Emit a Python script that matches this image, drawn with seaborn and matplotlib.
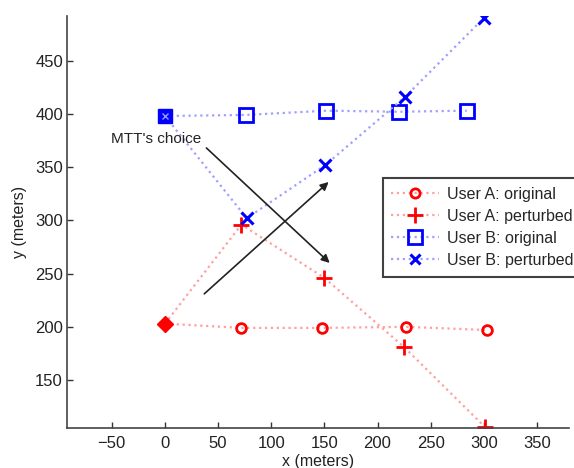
import matplotlib
matplotlib.use('Agg')
import matplotlib.pyplot as plt
import seaborn as sns
import numpy as np

# trajectories (x, y in meters); first point is the start
a_orig_x = [0, 72, 148, 227, 303]
a_orig_y = [203, 199, 199, 200, 197]
a_pert_x = [0, 72, 150, 225, 301]
a_pert_y = [203, 296, 246, 181, 106]
b_orig_x = [0, 76, 152, 220, 284]
b_orig_y = [398, 399, 403, 402, 403]
b_pert_x = [0, 77, 151, 226, 300]
b_pert_y = [398, 302, 352, 416, 490]

labels = ['User A: original', 'User A: perturbed',
          'User B: original', 'User B: perturbed']

sns.set_style('white')
plt.rcParams['font.family'] = ['Liberation Sans', 'DejaVu Sans']

fig = plt.figure(figsize=(5.74, 4.68), dpi=100)
ax = fig.add_axes([0.117, 0.0855, 0.874, 0.8805])

common = dict(linestyle=':', linewidth=1.6, sort=False, estimator=None, ax=ax)
sns.lineplot(x=a_orig_x, y=a_orig_y, color='#ffa0a0', marker='o', ms=7,
             mec='red', mfc='none', mew=2, markevery=[1, 2, 3, 4],
             label=labels[0], **common)
sns.lineplot(x=a_pert_x, y=a_pert_y, color='#ffa0a0', marker='+', ms=12,
             mec='red', mew=2, markevery=[1, 2, 3, 4],
             label=labels[1], **common)
sns.lineplot(x=b_orig_x, y=b_orig_y, color='#a0a0ff', marker='s', ms=10,
             mec='blue', mfc='none', mew=2, markevery=[1, 2, 3, 4],
             label=labels[2], **common)
sns.lineplot(x=b_pert_x, y=b_pert_y, color='#a0a0ff', marker='x', ms=8,
             mec='blue', mew=2.2, markevery=[1, 2, 3, 4],
             label=labels[3], **common)

# start points
ax.plot(a_orig_x[0], a_orig_y[0], marker='D', ms=8, color='red')
ax.plot(b_orig_x[0], b_orig_y[0], marker='s', ms=10, color='blue')
ax.plot(b_orig_x[0], b_orig_y[0], marker='x', ms=5, color='#9999ff', mew=1)

# MTT's choice arrows
ax.annotate('', xy=(155, 260), xytext=(39, 368),
            arrowprops=dict(arrowstyle='-|>', color='#222222', lw=1.2,
                            mutation_scale=12, shrinkA=0, shrinkB=0))
ax.annotate('', xy=(154, 336), xytext=(37, 231),
            arrowprops=dict(arrowstyle='-|>', color='#222222', lw=1.2,
                            mutation_scale=12, shrinkA=0, shrinkB=0))
ax.text(-8, 376, "MTT's choice", fontsize=11, ha='center', va='center',
        color='#222222')

ax.set_xlim(-92, 380)
ax.set_ylim(105, 492)
ax.set_xticks(np.arange(-50, 351, 50))
ax.set_yticks(np.arange(150, 451, 50))
ax.set_xticklabels(['\u221250', '0', '50', '100', '150', '200', '250', '300', '350'])
ax.tick_params(direction='in', length=4, width=1, colors='#333333',
               labelsize=12, labelcolor='#222222', bottom=True, left=True)
ax.tick_params(axis='x', pad=6)
ax.tick_params(axis='y', pad=3)
for s in ['top', 'right']:
    ax.spines[s].set_visible(False)
for s in ['left', 'bottom']:
    ax.spines[s].set_color('#444444')
    ax.spines[s].set_linewidth(1.2)

ax.set_xlabel('x (meters)', fontsize=11.5, color='#222222', labelpad=2)
ax.set_ylabel('y (meters)', fontsize=11.5, color='#222222', labelpad=6)

leg = ax.legend(loc='upper left', bbox_to_anchor=(0.629, 0.607), fontsize=11.5,
                handlelength=3.0, borderpad=0.55, labelspacing=0.44,
                handletextpad=0.5, frameon=True, fancybox=False,
                borderaxespad=0, markerscale=0.95)
leg.get_frame().set_edgecolor('#111111')
leg.get_frame().set_linewidth(1.5)

fig.savefig('out.png', dpi=100)
